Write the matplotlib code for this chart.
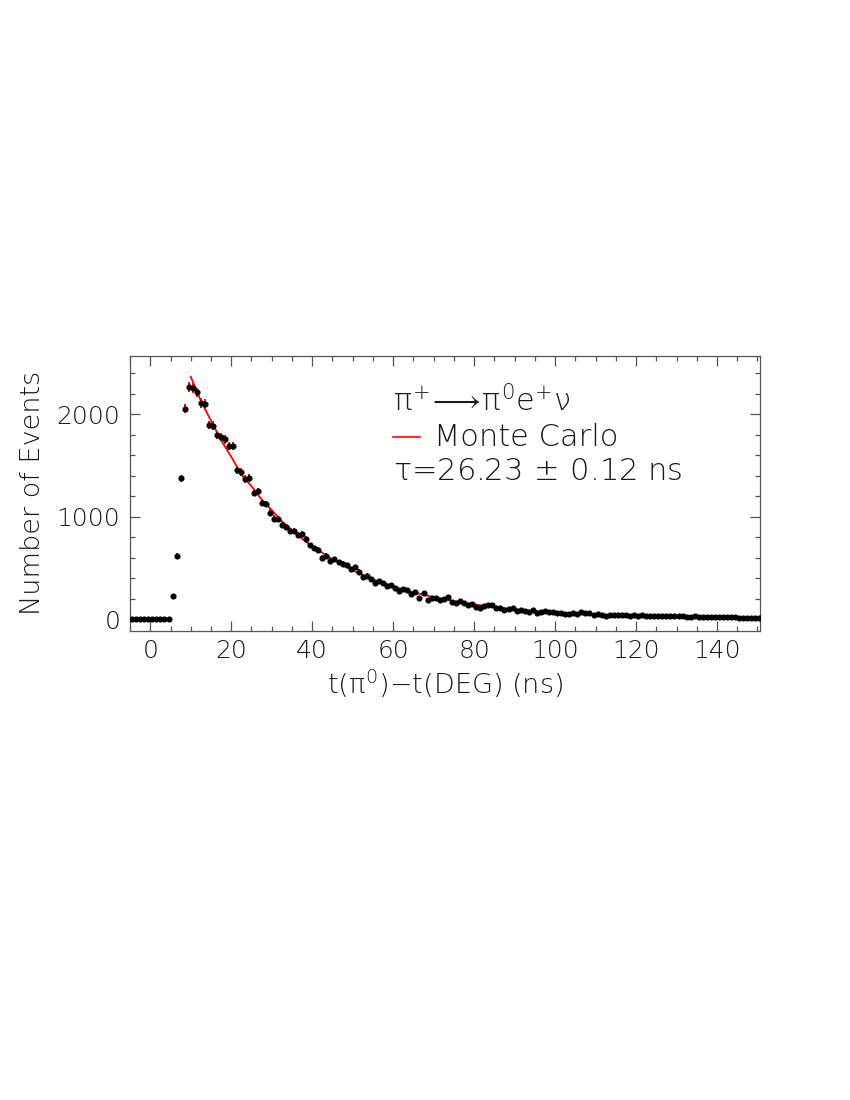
import numpy as np
import matplotlib
matplotlib.use("Agg")
import matplotlib.pyplot as plt
from matplotlib.ticker import MultipleLocator

plt.rcParams['font.family'] = ['DejaVu Sans']
plt.rcParams['font.weight'] = 'light'
plt.rcParams['axes.labelweight'] = 'light'
plt.rcParams['mathtext.fontset'] = 'custom'
plt.rcParams['mathtext.rm'] = 'DejaVu Sans:light'
plt.rcParams['mathtext.it'] = 'DejaVu Sans:light'
plt.rcParams['mathtext.sf'] = 'DejaVu Sans:light'

# ---- data ----
bin_edges_start = -5.0
bin_width = 1.0
counts = [0, 0, 0, 0, 0, 0, 0, 0, 0, 0,
          230, 620, 1374, 2053, 2264, 2257, 2212, 2108, 2098, 1894,
          1887, 1796, 1777, 1754, 1692, 1692, 1455, 1439, 1367, 1380,
          1234, 1248, 1137, 1124, 1039, 981, 975, 916, 903, 864,
          864, 819, 834, 780, 720, 690, 675, 601, 620, 571,
          585, 555, 542, 526, 487, 507, 464, 409, 425, 390,
          351, 370, 351, 328, 334, 308, 279, 292, 289, 244,
          266, 205, 256, 191, 208, 205, 185, 195, 217, 172,
          156, 175, 156, 136, 146, 123, 110, 133, 142, 136,
          110, 113, 91, 103, 113, 81, 94, 84, 71, 94,
          64, 68, 81, 71, 68, 64, 61, 52, 55, 58,
          55, 68, 64, 64, 42, 52, 45, 35,
          42, 40, 38, 42, 36, 35, 38, 34, 36, 30,
          33, 32, 30, 35, 28, 30, 27, 28, 29, 26,
          25, 27, 22, 24, 23, 20, 22, 19, 21, 18,
          17, 19, 15, 16, 14, 12, 12, 10]

mc_x = [10, 12.5, 15, 17.5, 20, 22.5, 25, 27.5, 30, 32.5, 35, 37.5, 40, 45,
        50, 55, 60, 65, 70, 75, 80, 85, 90, 95, 100, 110, 120, 130, 140, 150.6]
mc_y = [2365, 2130, 1936, 1745, 1585, 1410, 1298, 1168, 1065, 955, 870, 785, 710, 585,
        475, 390, 320, 262, 215, 175, 144, 118, 96, 79, 65, 43, 29, 20, 13, 9]

x_ticks = [0, 20, 40, 60, 80, 100, 120, 140]
y_ticks = [0, 1000, 2000]

counts = np.array(counts, dtype=float)
centers = bin_edges_start + bin_width * (np.arange(len(counts)) + 0.5)
errs = np.sqrt(counts)

fig = plt.figure(figsize=(8.5, 11), dpi=100)
ax = fig.add_axes([0.153, 0.4264, 0.741, 0.2502])

ax.plot(mc_x, mc_y, color='red', lw=1.3, zorder=2)
ax.errorbar(centers, counts, yerr=errs, fmt='o', color='black', ms=3.4,
            ecolor='red', elinewidth=1.4, capsize=0, zorder=3)

ax.set_xlim(-5, 150.6)
ax.set_ylim(-115, 2570)
ax.set_xticks(x_ticks)
ax.set_yticks(y_ticks)
ax.xaxis.set_minor_locator(MultipleLocator(5))
ax.yaxis.set_minor_locator(MultipleLocator(200))
ax.tick_params(which='both', direction='in', top=True, right=True,
               colors='#555555', labelcolor='#1a1a1a', labelsize=18, width=0.9)
ax.tick_params(which='major', length=7)
ax.tick_params(which='minor', length=3.5)
ax.tick_params(axis='x', pad=6)
ax.tick_params(axis='y', pad=7)
for s in ax.spines.values():
    s.set_color('#555555')
    s.set_linewidth(0.9)

ax.set_ylabel('Number of Events', fontsize=19.5, fontweight='light', color='#1a1a1a', labelpad=8)
ax.set_xlabel(r't($\pi^{\rm 0}$)$-$t(DEG) (ns)', fontsize=19.5, fontweight='light',
              color='#1a1a1a', labelpad=3)

tx = 0.417
ax.text(tx, 0.797, r'$\pi^{+}\!\longrightarrow\!\pi^{0}$e$^{+}\nu$', transform=ax.transAxes,
        fontsize=22, va='baseline', ha='left', color='#1a1a1a')
ax.plot([0.417, 0.461], [0.704, 0.704], transform=ax.transAxes, color='red', lw=1.2)
ax.text(0.483, 0.672, 'Monte Carlo', transform=ax.transAxes,
        fontsize=22, va='baseline', ha='left', color='#1a1a1a')
ax.text(tx, 0.548, r'$\tau$=26.23$\,\pm\,$0.12 ns', transform=ax.transAxes,
        fontsize=22, va='baseline', ha='left', color='#1a1a1a')

fig.savefig('out.png', dpi=100)
